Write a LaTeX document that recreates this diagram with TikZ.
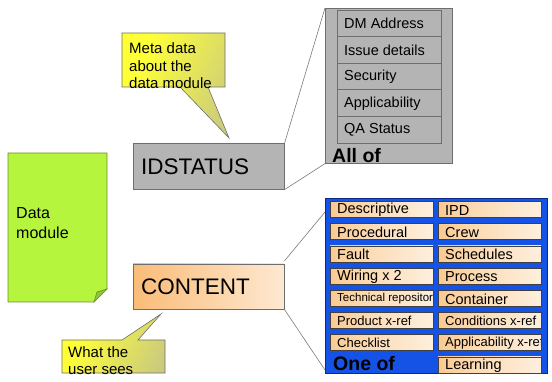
\documentclass[tikz,border=0pt]{standalone}
\usepackage{fontspec}
\setmainfont{Liberation Sans}
\usetikzlibrary{calc}

\definecolor{limefill}{HTML}{B6F53E}
\definecolor{limeedge}{HTML}{6E8E2E}
\definecolor{limefold}{HTML}{8CC63A}
\definecolor{panelgray}{HTML}{B4B4B4}
\definecolor{edgegray}{HTML}{6E6E6E}
\definecolor{linkgray}{HTML}{7A7A7A}
\definecolor{calloutyellow}{HTML}{FFFF38}
\definecolor{calloutkhaki}{HTML}{B4B49C}
\definecolor{contentorange}{HTML}{F8A64A}
\definecolor{cellorange}{HTML}{F9B262}
\definecolor{cellpeach}{HTML}{FCDCB6}
\definecolor{panelblue}{HTML}{1552E6}
\definecolor{paneledge}{HTML}{0B2A80}

% soft left-to-right ramps, spread over the whole width
\pgfdeclarehorizontalshading{cellramp}{100bp}{color(0bp)=(cellorange); color(45bp)=(cellpeach); color(100bp)=(white)}
\pgfdeclarehorizontalshading{contentramp}{100bp}{color(0bp)=(contentorange); color(100bp)=(white)}
\pgfdeclarehorizontalshading{calloutramp}{100bp}{color(0bp)=(calloutyellow); color(30bp)=(calloutyellow); color(100bp)=(calloutkhaki)}

\tikzset{
  x=1pt, y=-1pt,
  link/.style={draw=linkgray, line width=0.6pt},
  callout/.style={draw=edgegray, line width=0.6pt, shading=calloutramp, shading angle=-25},
  graybox/.style={draw=edgegray, line width=0.6pt, fill=panelgray},
  label/.style={inner sep=0pt, anchor=west, text=black},
  celltext/.style={inner sep=0pt, anchor=west, text=black},
}

% one orange cell of the content panel: #1 name, #2 left, #3 top, #4 font size, #5 text
\newcommand{\contentcell}[5]{%
  \begin{scope}
    \path[clip] (#2,#3) rectangle ++(103,16);
    \shade[shading=cellramp] (#2,#3) rectangle ++(103,16);
    \node[celltext, font=\fontsize{#4}{#4}\selectfont] (#1) at (#2+7,#3+8.6) {#5};
  \end{scope}
  \draw[draw=black!75, line width=0.6pt] (#2,#3) rectangle ++(103,16);
}

\begin{document}
\begin{tikzpicture}
\useasboundingbox (0,0) rectangle (552,382);

% data module sheet with a folded corner
\path[draw=limeedge, line width=0.7pt, fill=limefill]
  (8,153) -- (107,153) -- (107,289) -- (94,302) -- (8,302) -- cycle;
\path[draw=limeedge, line width=0.6pt, fill=limefold]
  (107,289) -- (97,292) -- (94,302) -- cycle;
\node[label, anchor=north west, align=left,
      font=\fontsize{16}{20}\selectfont] (dm) at (16,207) {Data\\module};

% IDSTATUS box
\node[graybox, minimum width=151pt, minimum height=46pt, anchor=north west,
      inner sep=0pt] (ids) at (133,143) {};
\node[label, font=\fontsize{22.5}{22.5}\selectfont] (idstext) at (141,166.5) {IDSTATUS};

% CONTENT box
\shade[draw=edgegray, line width=0.6pt, shading=contentramp] (133,264) rectangle (284,309);
\node[inner sep=0pt, minimum width=151pt, minimum height=45pt, anchor=north west]
  (content) at (133,264) {};
\node[label, font=\fontsize{22.5}{22.5}\selectfont] (contenttext) at (141,287) {CONTENT};

% "All of" panel
\node[graybox, minimum width=127pt, minimum height=155pt, anchor=north west,
      inner sep=0pt] (allof) at (325,8) {};
\foreach \lbl [count=\i from 0] in {DM Address, Issue details, Security, Applicability, QA Status}{
  \draw[draw=edgegray, line width=0.6pt, fill=panelgray]
    (337,10+26.6*\i) rectangle ++(104,26.6);
  \node[label, font=\fontsize{14.5}{14.5}\selectfont] (item\i) at (344,23.5+26.6*\i) {\lbl};
}
\node[label, font=\bfseries\fontsize{19.5}{19.5}\selectfont] (alloftext) at (332,155.5) {All of};

% links from IDSTATUS to its panel
\draw[link] (ids.north east) -- (allof.north west);
\draw[link] (ids.south east) -- (allof.south west);

% "One of" panel
\node[draw=paneledge, line width=0.7pt, fill=panelblue, minimum width=222pt,
      minimum height=175pt, anchor=north west, inner sep=0pt] (oneof) at (325,198) {};
\coordinate (oneoftop) at (325,212);
\coordinate (oneofbot) at (325,370);
\draw[link] ($(content.north east)+(0,-3)$) -- (oneoftop);
\draw[link] (content.south east) -- (oneofbot);

\contentcell{descriptive}{330}{201.5}{14.5}{Descriptive}
\contentcell{procedural}{330}{223.7}{14.5}{Procedural}
\contentcell{fault}{330}{245.9}{14.5}{Fault}
\contentcell{wiring}{330}{268.1}{14.5}{Wiring x 2}
\contentcell{techrep}{330}{290.3}{11.5}{Technical repository}
\contentcell{productxref}{330}{312.5}{13}{Product x-ref}
\contentcell{checklist}{330}{334.7}{13}{Checklist}

\contentcell{ipd}{438}{201.5}{14.5}{IPD}
\contentcell{crew}{438}{223.7}{14.5}{Crew}
\contentcell{schedules}{438}{245.9}{14.5}{Schedules}
\contentcell{process}{438}{268.1}{14.5}{Process}
\contentcell{container}{438}{290.3}{14.5}{Container}
\contentcell{conditions}{438}{312.5}{13}{Conditions x-ref}
\contentcell{applxref}{438}{334.7}{13}{Applicability x-ref}
\contentcell{learning}{438}{356.9}{14.5}{Learning}

\node[label, font=\bfseries\fontsize{19.5}{19.5}\selectfont] (oneoftext) at (333,363.5) {One of};

% callout about the metadata
\path[callout] (122,33) -- (225,33) -- (225,87) -- (208,87) -- (229,138)
  -- (180,87) -- (122,87) -- cycle;
\node[label, anchor=north west, align=left,
      font=\fontsize{15}{17.5}\selectfont] (metatext) at (129,42.5)
  {Meta data\\about the\\data module};

% callout about the content
\path[callout] (62,340) -- (122,340) -- (161,314) -- (138,340) -- (165,340)
  -- (165,373) -- (62,373) -- cycle;
\node[label, anchor=north west, align=left,
      font=\fontsize{15}{16.5}\selectfont] (usertext) at (68,346.5)
  {What the\\user sees};

\end{tikzpicture}
\end{document}
